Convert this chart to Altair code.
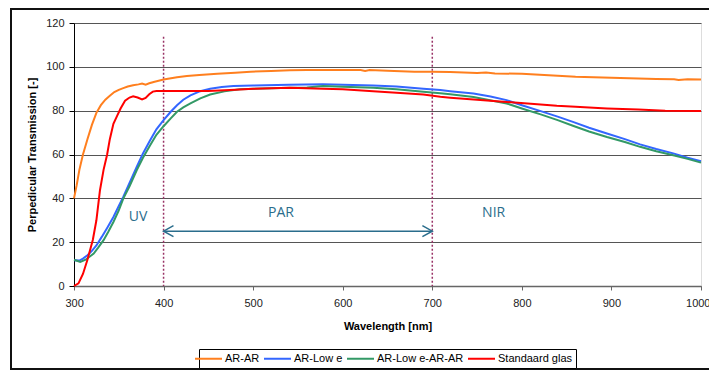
import altair as alt
import pandas as pd

# ---------------- data ----------------
series_names = ["AR-AR", "AR-Low e", "AR-Low e-AR-AR", "Standaard glas"]
series_colors = ["#FF7F1E", "#3366FF", "#339966", "#FF0000"]

ar_ar_wl = [300, 303, 306, 310, 315, 320, 325, 330, 335, 340, 345, 350, 355, 360, 366, 372, 376,
            380, 384, 390, 400, 415, 426, 440, 460, 480, 497, 520, 541, 560, 580, 600, 620, 625,
            630, 650, 680, 700, 720, 750, 760, 770, 800, 830, 860, 880, 900, 930, 950, 970, 975,
            985, 1000]
ar_ar_t = [40, 46, 53, 60, 67, 73.5, 79, 82.5, 85, 86.8, 88.5, 89.5, 90.3, 91, 91.6, 92.0, 92.4,
           91.9, 92.5, 93.2, 94.2, 95.2, 95.8, 96.3, 96.8, 97.3, 97.8, 98.1, 98.4, 98.6, 98.6, 98.5,
           98.5, 98.1, 98.5, 98.2, 97.8, 97.7, 97.6, 97.2, 97.4, 97.0, 96.8, 96.2, 95.5, 95.3, 95.0,
           94.7, 94.5, 94.3, 94.0, 94.3, 94.2]

lowe_wl = [300, 306, 310, 315, 320, 325, 331, 337, 344, 350, 355, 362, 370, 377, 385, 392, 400,
           408, 415, 422, 430, 441, 452, 465, 478, 500, 540, 578, 600, 634, 660, 690, 709, 720,
           746, 765, 783, 800, 821, 840, 857, 875, 895, 915, 932, 950, 969, 985, 1000]
lowe_t = [11.8, 11.6, 12.5, 14, 16, 18.5, 22.4, 26.5, 31.5, 36.5, 40.6, 47, 54.3, 60.5, 66.5,
          71.5, 75.7, 79.5, 82.5, 85, 87, 88.9, 90, 90.8, 91.2, 91.5, 91.8, 92, 91.8, 91.5, 91,
          90, 89.4, 88.9, 87.8, 86.5, 84.8, 82.5, 79.8, 77.3, 74.9, 72.2, 69.6, 67, 64.6, 62.5,
          60.5, 58.5, 56.9]

lowe_arar_wl = [300, 307, 313, 322, 327, 333, 338, 344, 350, 355, 362, 370, 377, 385, 392, 400,
                408, 415, 422, 430, 441, 452, 468, 485, 510, 541, 560, 578, 600, 634, 660, 690,
                709, 720, 746, 783, 800, 821, 840, 857, 875, 895, 915, 932, 950, 969, 985, 1000]
lowe_arar_t = [12, 11, 12, 14.8, 17.5, 20.9, 24.5, 29.2, 34.5, 39.9, 45.5, 52.8, 58.5, 64.2, 69,
               72.9, 76.5, 79.5, 81.5, 83.3, 85.6, 87.4, 88.8, 89.8, 90.1, 90.4, 90.6, 91.2, 90.9,
               90.4, 89.8, 88.6, 88, 87.5, 86.2, 83.3, 81, 78.3, 75.7, 73.1, 70.5, 68, 65.7, 63.5,
               61.5, 59.7, 58, 56.3]

std_wl = [300, 305, 310, 315, 321, 325, 329, 333, 337, 340, 344, 348, 352, 357, 362, 366, 371,
          376, 380, 384, 388, 392, 400, 450, 480, 500, 541, 578, 600, 634, 660, 690, 709, 720,
          750, 783, 810, 839, 860, 895, 930, 960, 1000]
std_t = [0, 1.2, 5.5, 12, 21, 30, 43.7, 53, 60, 67, 74, 77.5, 81, 84.5, 86, 86.6, 86, 85.1, 85.8,
         87.5, 88.7, 89, 89, 89, 89.5, 90, 90.5, 90, 89.8, 88.9, 88.2, 87.4, 86.3, 85.9, 85, 84,
         83.2, 82.2, 81.8, 81, 80.5, 80, 79.8]

boundary_wl = [400, 700]
boundary_top = 113.7

label_texts = ["UV", "PAR", "NIR"]
label_wl = [371.5, 531, 768.5]
label_t = [31.5, 33.5, 33.5]

arrow_from, arrow_to, arrow_level = 400, 700, 25

x_ticks = [300, 400, 500, 600, 700, 800, 900, 1000]
y_ticks = [0, 20, 40, 60, 80, 100, 120]

# ---------------- tables ----------------
rows = []
for name, xs, ys in zip(series_names,
                        [ar_ar_wl, lowe_wl, lowe_arar_wl, std_wl],
                        [ar_ar_t, lowe_t, lowe_arar_t, std_t]):
    for i, (a, b) in enumerate(zip(xs, ys)):
        rows.append({"series": name, "wl": a, "T": b, "i": i})
df = pd.DataFrame(rows)

df_v = pd.DataFrame({"wl": boundary_wl, "T": [boundary_top] * 2, "T2": [0, 0]})
df_txt = pd.DataFrame({"wl": label_wl, "T": label_t, "label": label_texts})
df_arrow = pd.DataFrame({"wl": [arrow_from], "wl2": [arrow_to], "T": [arrow_level]})
df_left = pd.DataFrame({"wl": [arrow_from], "T": [arrow_level]})
df_right = pd.DataFrame({"wl": [arrow_to], "T": [arrow_level]})
df_frame = pd.DataFrame({"k": [0]})

FONT = "Liberation Sans"
TEAL = "#2A6D8C"

x_scale = alt.Scale(domain=[300, 1000], nice=False, zero=False)
y_scale = alt.Scale(domain=[0, 120], nice=False, zero=False)

x_axis = alt.Axis(values=x_ticks, format="d", title="Wavelength [nm]", grid=False,
                  labelFlush=True, labelFlushOffset=9,
                  domainColor="#666666", domainWidth=1.5, tickColor="#666666",
                  tickSize=4, labelPadding=7, titlePadding=12,
                  labelFont=FONT, labelFontSize=11, labelColor="#222222",
                  titleFont=FONT, titleFontSize=11, titleFontWeight="bold", titleColor="#000000")
y_axis = alt.Axis(values=y_ticks, format="d", title="Perpedicular Transmission [-]", grid=True,
                  gridColor="#555555", gridWidth=1,
                  domainColor="#000000", domainWidth=1, tickColor="#000000",
                  tickSize=5, labelPadding=5, titlePadding=8,
                  labelFont=FONT, labelFontSize=11, labelColor="#222222",
                  titleFont=FONT, titleFontSize=11, titleFontWeight="bold", titleColor="#000000")

X = alt.X("wl:Q", scale=x_scale, axis=x_axis)
Y = alt.Y("T:Q", scale=y_scale, axis=y_axis)

frame = alt.Chart(df_frame).mark_rect(filled=False, stroke="#111111", strokeWidth=2).encode(
    x=alt.value(-63), x2=alt.value(660), y=alt.value(-14), y2=alt.value(346)
)

lines = alt.Chart(df).mark_line(strokeWidth=2).encode(
    x=X, y=Y,
    color=alt.Color("series:N",
                    scale=alt.Scale(domain=series_names, range=series_colors),
                    sort=series_names,
                    legend=alt.Legend(title=None, orient="none", direction="horizontal",
                                      legendX=125, legendY=326,
                                      symbolType="M-3,0L3,0", symbolSize=81, symbolStrokeWidth=2,
                                      labelFont=FONT, labelFontSize=11, labelColor="#000000",
                                      labelOffset=11, columnPadding=0, padding=4,
                                      strokeColor="#000000", fillColor="#FFFFFF")),
    order=alt.Order("i:Q"),
)

vlines = alt.Chart(df_v).mark_rule(color="#993366", strokeDash=[2, 2], strokeWidth=1.5).encode(
    x=X, y=Y, y2="T2:Q"
)

texts = alt.Chart(df_txt).mark_text(font="Open Sans", fontSize=14, color=TEAL).encode(
    x=X, y=Y, text="label:N"
)

arrow = alt.Chart(df_arrow).mark_rule(color=TEAL, strokeWidth=1.5).encode(
    x=X, x2="wl2:Q", y=Y
)
head_l = alt.Chart(df_left).mark_point(shape="M1.8,-1L0,0L1.8,1", filled=False, color=TEAL,
                                       strokeWidth=1.5, size=121, opacity=1).encode(x=X, y=Y)
head_r = alt.Chart(df_right).mark_point(shape="M-1.8,-1L0,0L-1.8,1", filled=False, color=TEAL,
                                        strokeWidth=1.5, size=121, opacity=1).encode(x=X, y=Y)

chart = alt.layer(frame, vlines, lines, texts, arrow, head_l, head_r).properties(
    width=627, height=263,
    autosize=alt.AutoSizeParams(type="none"),
    padding={"left": 66, "top": 15, "right": 8, "bottom": 85},
).configure_view(stroke="#A0A0A0", strokeWidth=1.5).configure(background="#FFFFFF")

chart.save("out.html", embed_options={"renderer": "svg", "actions": False})
